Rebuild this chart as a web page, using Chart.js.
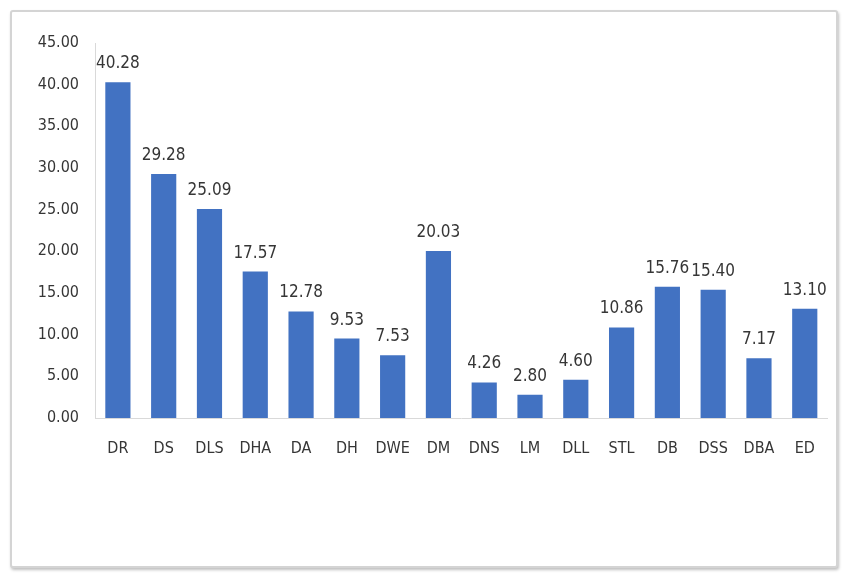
<!DOCTYPE html>
<html lang="en">
  <head>
    <meta charset="UTF-8" />
    <title>Bar chart</title>
    <script src="https://cdn.jsdelivr.net/npm/chart.js"></script>
    <style>
      body {
        margin: 0;
        background: #ffffff;
      }
      .frame {
        position: absolute;
        left: 10px;
        top: 10px;
        width: 824px;
        height: 554px;
        border: 2px solid #d4d4d4;
        border-radius: 3px;
        box-shadow: 1px 2px 3px rgba(0, 0, 0, 0.25);
        background: #fff;
      }
    </style>
  </head>
  <body>
    <div class="frame">
      <canvas id="chart" width="824" height="554"></canvas>
    </div>
    <script>
      const categories = ["DR", "DS", "DLS", "DHA", "DA", "DH", "DWE", "DM", "DNS", "LM", "DLL", "STL", "DB", "DSS", "DBA", "ED"];
      const values = [40.28, 29.28, 25.09, 17.57, 12.78, 9.53, 7.53, 20.03, 4.26, 2.8, 4.6, 10.86, 15.76, 15.4, 7.17, 13.1];
      const yTicks = [0, 5, 10, 15, 20, 25, 30, 35, 40, 45];

      const fontFamily = "'Liberation Sans Narrow', 'DejaVu Sans Condensed', 'Liberation Sans', sans-serif";

      // value written above each bar
      const valueLabels = {
        id: "valueLabels",
        afterDatasetsDraw(chart) {
          const ctx = chart.ctx;
          const meta = chart.getDatasetMeta(0);
          ctx.save();
          ctx.font = "17px " + fontFamily;
          ctx.fillStyle = "#363636";
          ctx.textAlign = "center";
          ctx.textBaseline = "bottom";
          meta.data.forEach((bar, i) => {
            ctx.fillText(values[i].toFixed(2), bar.x, bar.y - 10);
          });
          ctx.restore();
        },
      };

      new Chart(document.getElementById("chart"), {
        type: "bar",
        data: {
          labels: categories,
          datasets: [
            {
              data: values,
              backgroundColor: "#4272c2",
              barPercentage: 0.55,
              categoryPercentage: 1,
            },
          ],
        },
        options: {
          responsive: false,
          animation: false,
          layout: { padding: { top: 31, right: 5, left: 0, bottom: 0 } },
          plugins: {
            legend: { display: false },
            tooltip: { enabled: false },
          },
          scales: {
            x: {
              grid: { display: false, drawTicks: false },
              border: { color: "#d9d9d9", width: 1 },
              ticks: {
                color: "#363636",
                padding: 21,
                font: { size: 16, family: fontFamily },
              },
              afterFit(scale) {
                scale.height = 148;
              },
            },
            y: {
              min: 0,
              max: 45,
              afterBuildTicks(scale) {
                scale.ticks = yTicks.map((v) => ({ value: v }));
              },
              grid: { display: false, drawTicks: false },
              border: { color: "#d9d9d9", width: 1 },
              ticks: {
                color: "#363636",
                padding: 16,
                font: { size: 16, family: fontFamily },
                callback: (v) => Number(v).toFixed(2),
              },
              afterFit(scale) {
                scale.width = 83;
              },
            },
          },
        },
        plugins: [valueLabels],
      });
    </script>
  </body>
</html>
